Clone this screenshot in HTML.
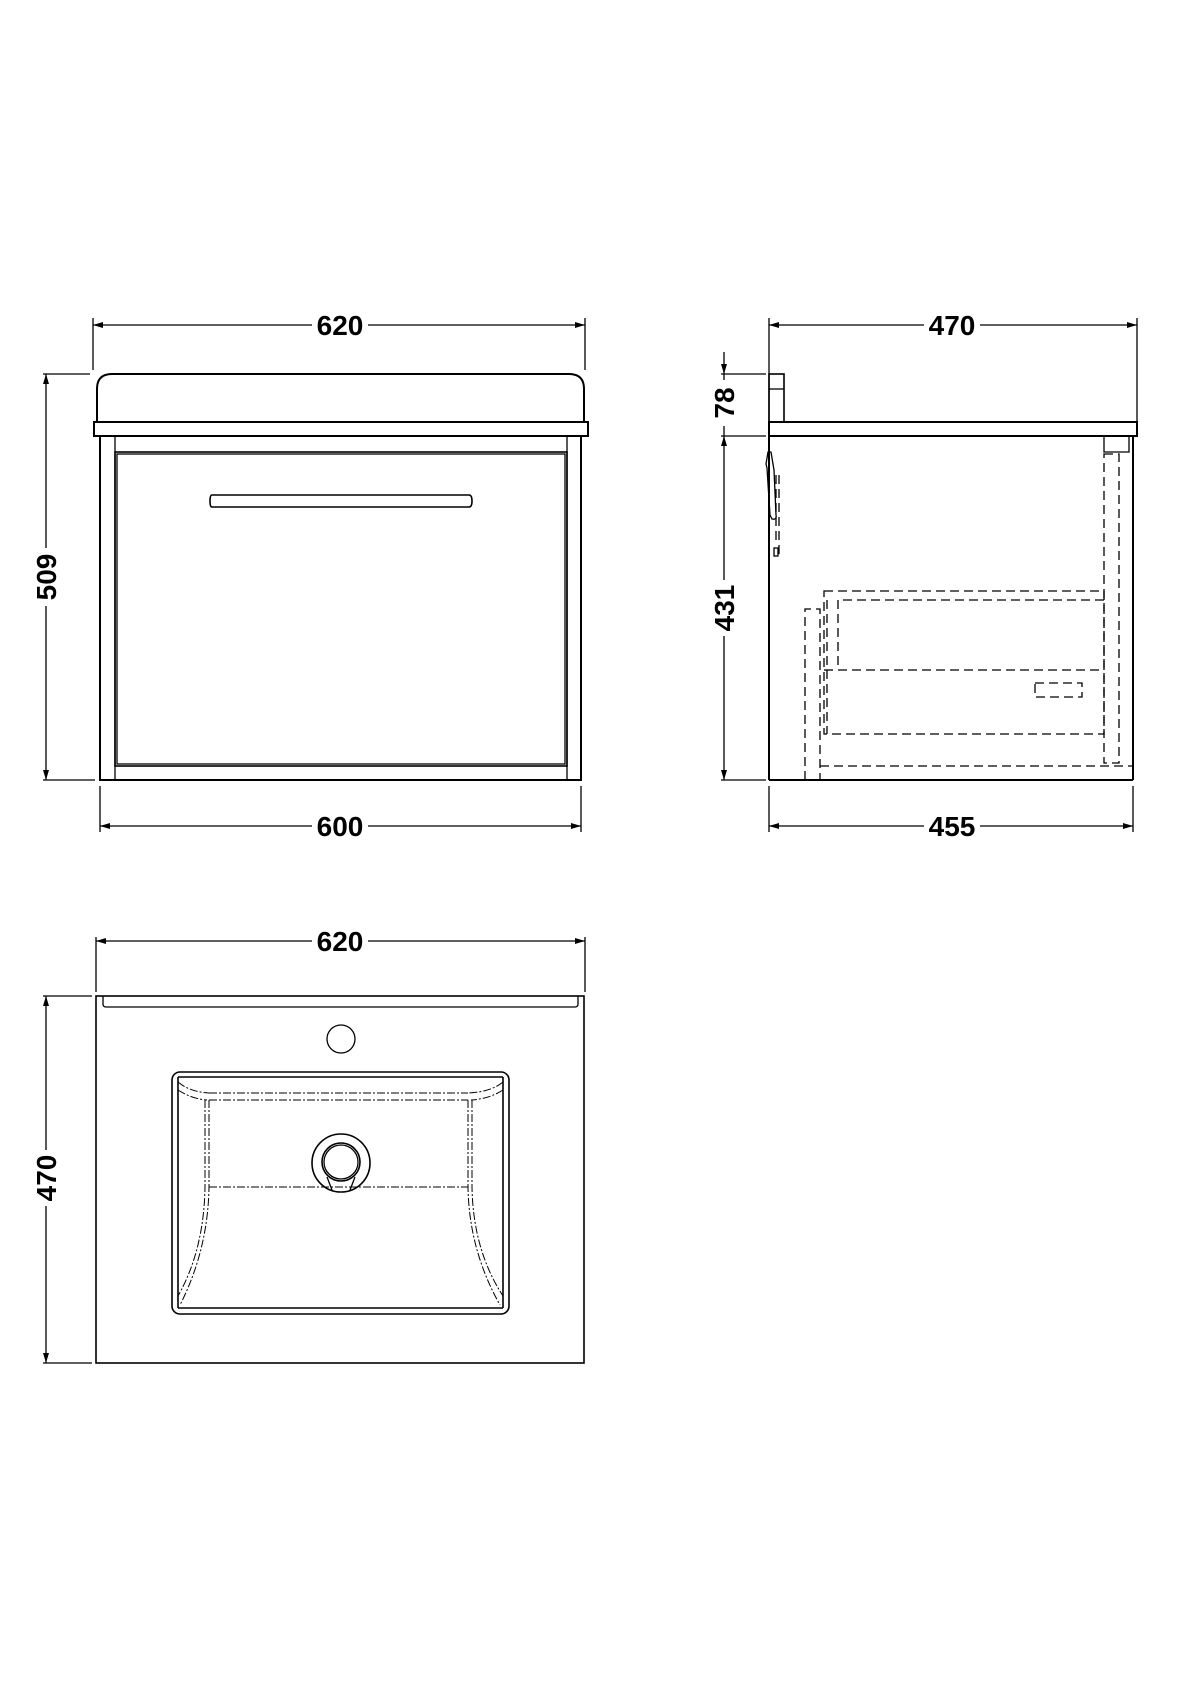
<!DOCTYPE html>
<html><head><meta charset="utf-8"><style>
html,body{margin:0;padding:0;background:#fff;}
svg{display:block}
text{font-family:"Liberation Sans",sans-serif;font-weight:bold;font-size:28px;fill:#000}
</style></head><body>
<svg width="1190" height="1684" viewBox="0 0 1190 1684" xmlns="http://www.w3.org/2000/svg">
<defs>
<marker id="a" viewBox="0 0 10 6" refX="10" refY="3" markerWidth="10" markerHeight="6" orient="auto-start-reverse" markerUnits="userSpaceOnUse"><path d="M0,0 L10,3 L0,6 z" fill="#000"/></marker>
</defs>
<g stroke="#000" fill="none" stroke-width="1.3">
<!-- FRONT VIEW -->
<line x1="93" y1="318" x2="93" y2="370"/><line x1="585" y1="318" x2="585" y2="370"/>
<line x1="93" y1="325" x2="312" y2="325" marker-start="url(#a)"/><line x1="368" y1="325" x2="585" y2="325" marker-end="url(#a)"/>
<path d="M97,422 V389 Q97,374 112,374 H569 Q584,374 584,389 V422" stroke-width="2"/>
<rect x="94" y="422" width="494" height="14" stroke-width="2"/>
<rect x="100" y="436" width="481" height="344" stroke-width="2"/>
<line x1="115" y1="436" x2="115" y2="780"/><line x1="567" y1="436" x2="567" y2="780"/>
<rect x="115" y="452" width="452" height="314" stroke-width="1.6"/>
<rect x="117" y="454" width="448" height="310"/>
<path d="M212,495 H469 Q472,495 472,501 Q472,507 469,507 H212 Q210,507 210,501 Q210,495 212,495 Z" stroke-width="1.6"/>
<line x1="43" y1="374" x2="90" y2="374"/><line x1="43" y1="780" x2="95" y2="780"/>
<line x1="46" y1="374" x2="46" y2="548" marker-start="url(#a)"/><line x1="46" y1="606" x2="46" y2="780" marker-end="url(#a)"/>
<line x1="100" y1="786" x2="100" y2="832"/><line x1="581" y1="786" x2="581" y2="832"/>
<line x1="100" y1="826" x2="312" y2="826" marker-start="url(#a)"/><line x1="368" y1="826" x2="581" y2="826" marker-end="url(#a)"/>
<!-- SIDE VIEW -->
<line x1="769" y1="318" x2="769" y2="436"/><line x1="1137" y1="318" x2="1137" y2="422"/>
<line x1="769" y1="325" x2="924" y2="325" marker-start="url(#a)"/><line x1="980" y1="325" x2="1137" y2="325" marker-end="url(#a)"/>
<rect x="769" y="374" width="15" height="48" stroke-width="1.6"/><line x1="769" y1="389" x2="784" y2="389"/>
<rect x="769" y="422" width="368" height="14" stroke-width="2"/>
<line x1="769" y1="436" x2="769" y2="780" stroke-width="2"/>
<line x1="769" y1="780" x2="1133" y2="780" stroke-width="2"/>
<line x1="1133" y1="436" x2="1133" y2="780" stroke-width="2"/>
<path d="M1104,436 V452 H1129 V436"/>
<g stroke-dasharray="9,5">
<rect x="1104" y="454" width="15" height="309"/>
<line x1="820" y1="766" x2="1133" y2="766"/>
<path d="M805,780 V609 H820 V780"/>
<rect x="824" y="591" width="280" height="143"/>
<line x1="827" y1="600" x2="827" y2="734"/>
<path d="M1104,600 H838 V670 H1104"/>
<line x1="824" y1="670" x2="838" y2="670"/>
<rect x="1035" y="683" width="47" height="14"/>
<line x1="776" y1="475" x2="776" y2="540"/><line x1="779" y1="475" x2="779" y2="555"/>
</g>
<path d="M767,468 L766,464 L768,452 L771,452 L774,470 L776,515 Q777,520 772,519 L770,515 L767,468" stroke-width="1.3"/>
<rect x="774" y="548" width="4" height="8"/>
<line x1="721" y1="374" x2="766" y2="374"/><line x1="721" y1="436" x2="766" y2="436"/><line x1="721" y1="780" x2="766" y2="780"/>
<line x1="724" y1="352" x2="724" y2="374" marker-end="url(#a)"/><line x1="724" y1="374" x2="724" y2="380"/>
<line x1="724" y1="426" x2="724" y2="436"/>
<line x1="724" y1="436" x2="724" y2="580" marker-start="url(#a)"/><line x1="724" y1="636" x2="724" y2="780" marker-end="url(#a)"/>
<line x1="769" y1="786" x2="769" y2="832"/><line x1="1133" y1="786" x2="1133" y2="832"/>
<line x1="769" y1="826" x2="924" y2="826" marker-start="url(#a)"/><line x1="980" y1="826" x2="1133" y2="826" marker-end="url(#a)"/>
<!-- PLAN VIEW -->
<line x1="96" y1="937" x2="96" y2="992"/><line x1="585" y1="937" x2="585" y2="992"/>
<line x1="96" y1="941" x2="312" y2="941" marker-start="url(#a)"/><line x1="368" y1="941" x2="585" y2="941" marker-end="url(#a)"/>
<rect x="96" y="996" width="488" height="367" stroke-width="1.6"/>
<path d="M103,996 V1004 Q103,1007 106,1007 H575 Q578,1007 578,1004 V996"/>
<ellipse cx="341" cy="1039" rx="14" ry="14"/>
<rect x="172" y="1072" width="337" height="242" rx="8" stroke-width="1.6"/>
<line x1="178" y1="1077" x2="503" y2="1077" stroke-width="1.6"/>
<line x1="178" y1="1308" x2="503" y2="1308" stroke-width="1.6"/>
<line x1="178" y1="1077" x2="178" y2="1308" stroke-width="1.6"/>
<line x1="503" y1="1077" x2="503" y2="1308" stroke-width="1.6"/>
<g stroke-dasharray="8,2,2,2" stroke-width="1">
<line x1="209" y1="1093" x2="468" y2="1093"/><line x1="209" y1="1100" x2="468" y2="1100"/>
<line x1="209" y1="1187" x2="468" y2="1187"/>
<path d="M178,1082 Q190,1092 209,1093"/><path d="M178,1090 Q192,1099 207,1100"/>
<path d="M503,1082 Q491,1092 468,1093"/><path d="M503,1090 Q489,1099 471,1100"/>
<path d="M209,1100 V1187 Q208,1250 180,1305"/><path d="M205,1100 V1187 Q204,1250 178,1296"/>
<path d="M468,1100 V1187 Q469,1250 500,1305"/><path d="M472,1100 V1187 Q473,1250 503,1296"/>
</g>
<circle cx="341" cy="1163" r="29" stroke-width="1.6"/>
<circle cx="341" cy="1162" r="19" stroke-width="1.6"/>
<circle cx="341" cy="1162" r="17"/>
<line x1="327" y1="1177" x2="332" y2="1190"/><line x1="355" y1="1177" x2="350" y2="1190"/>
<line x1="43" y1="996" x2="92" y2="996"/><line x1="43" y1="1363" x2="92" y2="1363"/>
<line x1="46" y1="996" x2="46" y2="1150" marker-start="url(#a)"/><line x1="46" y1="1206" x2="46" y2="1363" marker-end="url(#a)"/>
</g>
<text x="340" y="335" text-anchor="middle">620</text>
<text x="340" y="836" text-anchor="middle">600</text>
<text x="952" y="335" text-anchor="middle">470</text>
<text x="952" y="836" text-anchor="middle">455</text>
<text x="340" y="951" text-anchor="middle">620</text>
<text transform="translate(56,577) rotate(-90)" text-anchor="middle">509</text>
<text transform="translate(56,1178) rotate(-90)" text-anchor="middle">470</text>
<text transform="translate(734,403) rotate(-90)" text-anchor="middle">78</text>
<text transform="translate(734,608) rotate(-90)" text-anchor="middle">431</text>
</svg>
</body></html>
